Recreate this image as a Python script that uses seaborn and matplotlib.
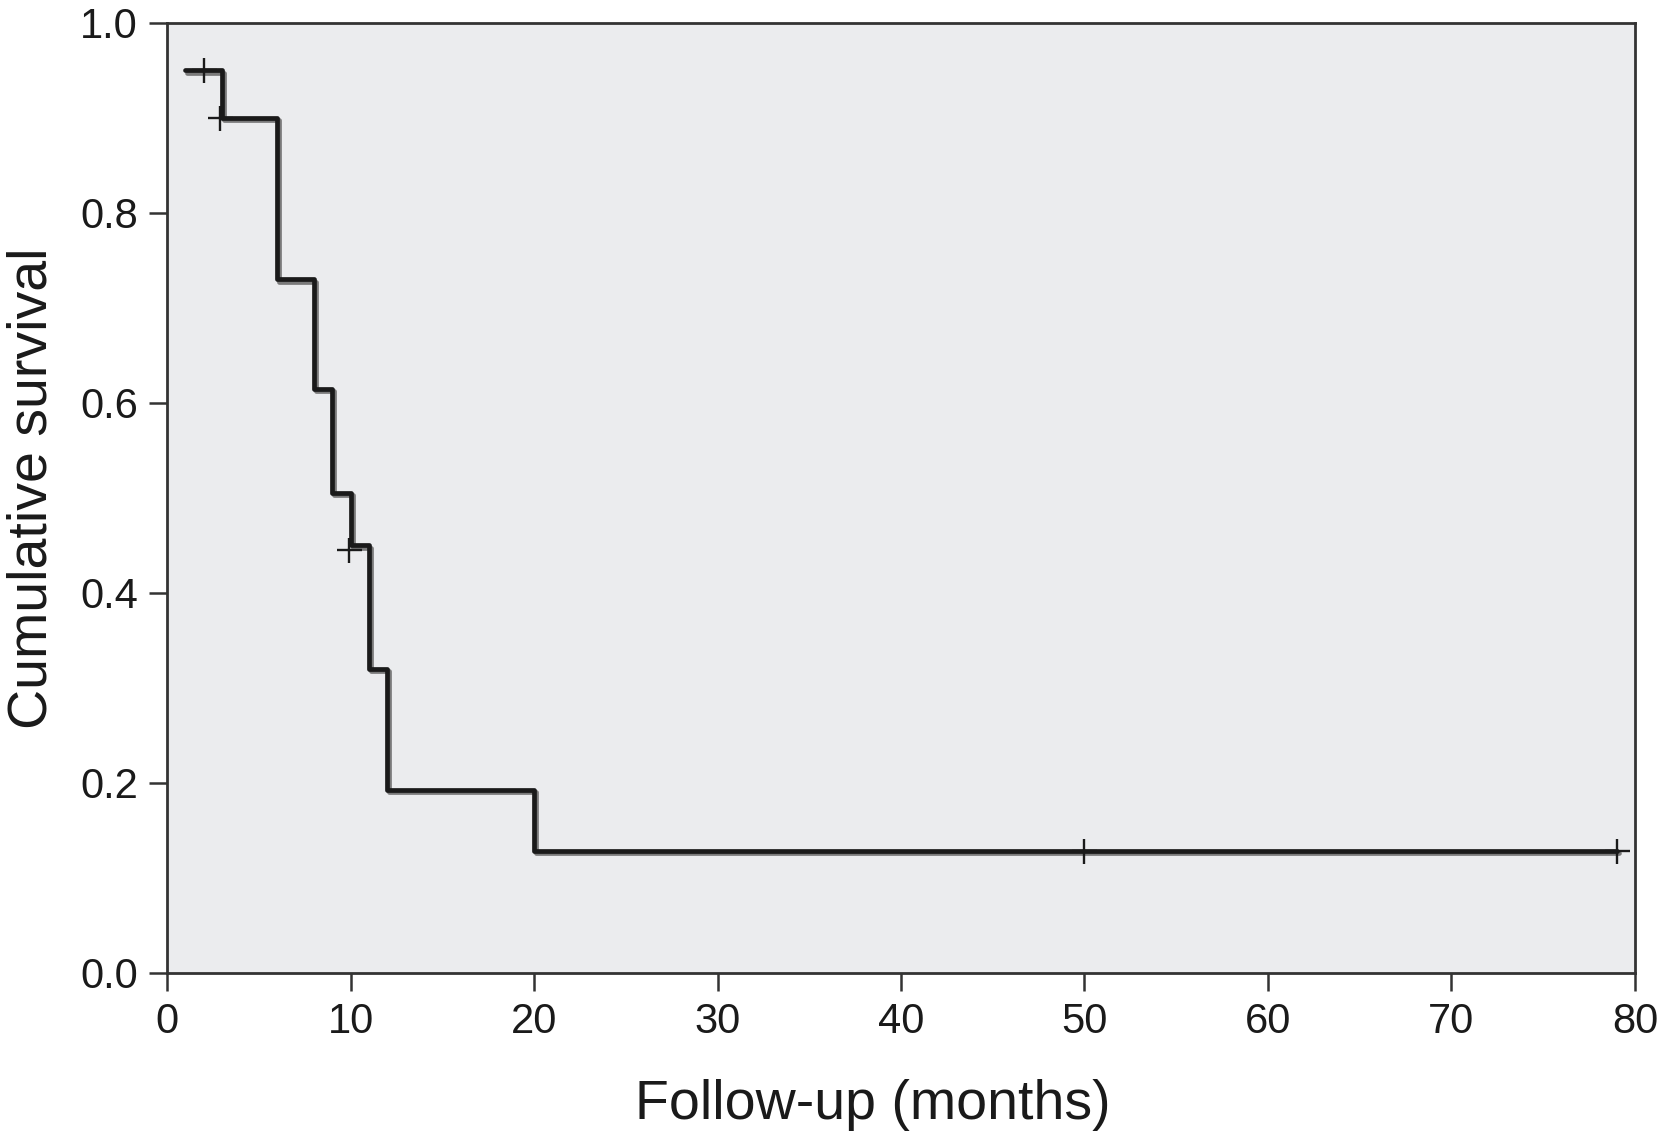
import matplotlib
matplotlib.use("Agg")
import matplotlib.pyplot as plt
import matplotlib.patheffects as pe
import seaborn as sns
import pandas as pd

# Kaplan-Meier step values
step_times = [1, 3, 6, 8, 9, 10, 11, 12, 20, 79]
step_survival = [0.95, 0.90, 0.73, 0.615, 0.505, 0.45, 0.32, 0.193, 0.128, 0.128]

# censored observations
censor_times = [2, 2.9, 9.9, 50, 79]
censor_survival = [0.95, 0.90, 0.445, 0.128, 0.128]

x_ticks = [0, 10, 20, 30, 40, 50, 60, 70, 80]
y_ticks = [0.0, 0.2, 0.4, 0.6, 0.8, 1.0]

sns.set_style("white")
plt.rcParams["font.family"] = ["Liberation Sans", "DejaVu Sans"]

step_df = pd.DataFrame({"time": step_times, "survival": step_survival})
censor_df = pd.DataFrame({"time": censor_times, "survival": censor_survival})

fig = plt.figure(figsize=(16.59, 11.38), dpi=100)
ax = fig.add_axes([0.1007, 0.145, 0.8848, 0.8348])
ax.set_facecolor("#ebecee")

sns.lineplot(
    data=step_df,
    x="time",
    y="survival",
    drawstyle="steps-post",
    color="#1a1a1a",
    linewidth=3.4,
    ax=ax,
    path_effects=[
        pe.SimpleLineShadow(offset=(1.5, -1.5), shadow_color="#7a7a7a", alpha=1),
        pe.Normal(),
    ],
)

ax.plot(
    censor_df["time"],
    censor_df["survival"],
    linestyle="none",
    marker="+",
    markersize=18,
    markeredgewidth=1.7,
    color="#1a1a1a",
)

ax.set_xlim(0, 80)
ax.set_ylim(0, 1.0)
ax.set_xticks(x_ticks)
ax.set_yticks(y_ticks)
ax.set_yticklabels([f"{v:.1f}" for v in y_ticks])

for side in ["left", "bottom", "top", "right"]:
    ax.spines[side].set_color("#333333")
    ax.spines[side].set_linewidth(2)

ax.tick_params(
    axis="both",
    direction="out",
    length=13,
    width=1.8,
    color="#333333",
    labelsize=30,
    labelcolor="#1a1a1a",
    pad=8,
    left=True,
    bottom=True,
)

ax.set_xlabel("Follow-up (months)", fontsize=40, color="#1a1a1a")
ax.set_ylabel("Cumulative survival", fontsize=40, color="#1a1a1a")
ax.xaxis.set_label_coords(0.481, -0.112)
ax.yaxis.set_label_coords(-0.074, 0.51)

plt.savefig("out.png", dpi=100)
plt.close()
